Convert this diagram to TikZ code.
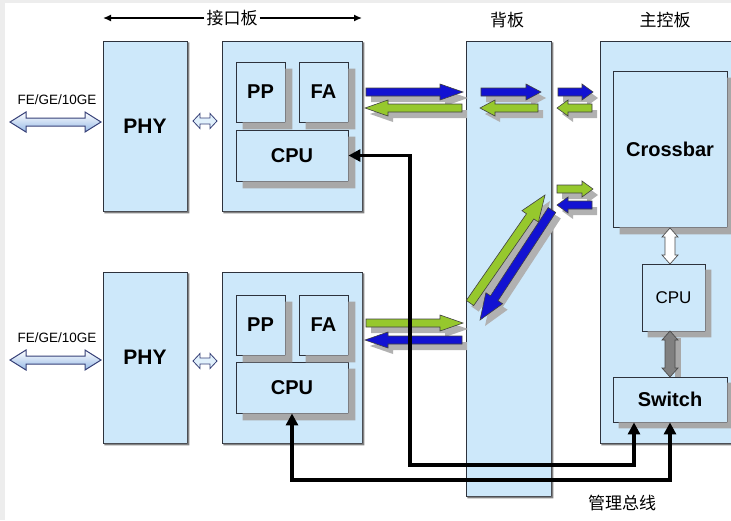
\documentclass[tikz,border=0pt]{standalone}
\usepackage{fontspec}
\setmainfont{Liberation Sans}
\newfontfamily\cjk{Noto Sans CJK SC}
\usetikzlibrary{arrows.meta}
\definecolor{lb}{RGB}{205,232,250}
\definecolor{lbd}{RGB}{150,185,230}
\definecolor{ablue}{RGB}{18,18,210}
\definecolor{agreen}{RGB}{150,200,45}
\definecolor{shd}{RGB}{168,168,168}
\definecolor{bigshd}{RGB}{130,130,130}
\definecolor{boxline}{RGB}{45,50,60}
\definecolor{navyline}{RGB}{55,65,120}

% block arrow from named coordinate #1 to #2, style #3, head length #4, shaft half #5, head half #6
\newcommand\blockarr[6]{%
 \pgfpointanchor{#1}{center}\pgfgetlastxy{\arax}{\aray}%
 \pgfpointanchor{#2}{center}\pgfgetlastxy{\arbx}{\arby}%
 \pgfmathsetmacro\arang{atan2(\arby-\aray,\arbx-\arax)}%
 \pgfmathsetmacro\arlen{veclen(\arbx-\arax,\arby-\aray)}%
 \pgfmathsetmacro\arhb{\arlen-#4}%
 \begin{scope}[shift={(#1)},shift={(5,6)},rotate=\arang]
  \fill[shd!90] (0,#5) -- (\arhb,#5) -- (\arhb,#6) -- (\arlen,0) -- (\arhb,-#6) -- (\arhb,-#5) -- (0,-#5) -- cycle;
 \end{scope}
 \begin{scope}[shift={(#1)},rotate=\arang]
  \draw[#3, draw=black!75, line width=0.6pt, line join=miter] (0,#5) -- (\arhb,#5) -- (\arhb,#6) -- (\arlen,0) -- (\arhb,-#6) -- (\arhb,-#5) -- (0,-#5) -- cycle;
 \end{scope}}

% double arrow from #1 to #2, style #3, shaft half #4, head half #5, head length #6
\newcommand\dblarr[6]{%
 \pgfpointanchor{#1}{center}\pgfgetlastxy{\arax}{\aray}%
 \pgfpointanchor{#2}{center}\pgfgetlastxy{\arbx}{\arby}%
 \pgfmathsetmacro\arang{atan2(\arby-\aray,\arbx-\arax)}%
 \pgfmathsetmacro\arlen{veclen(\arbx-\arax,\arby-\aray)}%
 \pgfmathsetmacro\arhb{\arlen-#6}%
 \begin{scope}[shift={(#1)},rotate=\arang]
  \draw[#3, line join=miter] (0,0) -- (#6,#5) -- (#6,#4) -- (\arhb,#4) -- (\arhb,#5) -- (\arlen,0) -- (\arhb,-#5) -- (\arhb,-#4) -- (#6,-#4) -- (#6,-#5) -- cycle;
 \end{scope}}

% L-shaped offset shadow on the right and bottom of node #1, offset #2 (pt), colour #3
\newcommand\lshadow[3]{%
 \fill[#3] ([yshift=-#2pt]#1.north east) -- ([xshift=#2pt,yshift=-#2pt]#1.north east)
   -- ([xshift=#2pt,yshift=-#2pt]#1.south east) -- ([xshift=#2pt,yshift=-#2pt]#1.south west)
   -- ([xshift=#2pt]#1.south west) -- (#1.south east) -- cycle;}

\begin{document}
\begin{tikzpicture}[x=1pt,y=-1pt,
  bigbox/.style={draw=boxline, line width=1pt, fill=lb, inner sep=0pt,
    font=\fontsize{21}{21}\selectfont\bfseries},
  unit/.style={draw=boxline, line width=0.9pt, fill=lb, inner sep=0pt,
    font=\fontsize{20}{20}\selectfont\bfseries},
  lbl/.style={font=\fontsize{17}{17}\selectfont\cjk, inner sep=1pt},
  port/.style={font=\fontsize{13.5}{14}\selectfont, inner sep=0pt},
  bus/.style={line width=3.2pt, {Triangle[length=12pt,width=12pt]}-{Triangle[length=12pt,width=12pt]}},
]
\useasboundingbox (0,0) rectangle (731,520);
\fill[black!7] (0,0) rectangle (5,520);
\fill[black!7] (0,0) rectangle (731,3);

% main boxes
\node[bigbox, minimum width=84, minimum height=170] (phy1) at (145,126) {PHY};
\node[bigbox, minimum width=84, minimum height=171] (phy2) at (145,357.5) {PHY};
\node[bigbox, minimum width=140, minimum height=170] (ib1) at (292,126) {};
\node[bigbox, minimum width=140, minimum height=171] (ib2) at (292,357.5) {};
\node[bigbox, minimum width=85, minimum height=455] (bp) at (508.5,268.5) {};
\node[bigbox, minimum width=150, minimum height=402] (mc) at (675,242) {};
\lshadow{phy1}{1.8}{bigshd}
\lshadow{phy2}{1.8}{bigshd}
\lshadow{ib1}{1.8}{bigshd}
\lshadow{ib2}{1.8}{bigshd}
\lshadow{bp}{1.8}{bigshd}
\lshadow{mc}{1.8}{bigshd}

% interface board units
\node[unit, minimum width=49, minimum height=60] (pp1) at (260.5,92) {PP};
\node[unit, minimum width=49, minimum height=60] (fa1) at (323.5,92) {FA};
\node[unit, minimum width=112, minimum height=51] (cpu1) at (292,155.5) {CPU};
\node[unit, minimum width=49, minimum height=60] (pp2) at (260.5,325) {PP};
\node[unit, minimum width=49, minimum height=60] (fa2) at (323.5,325) {FA};
\node[unit, minimum width=112, minimum height=51] (cpu2) at (292,387.5) {CPU};

% main control units
\node[unit, minimum width=114, minimum height=156] (xb) at (670,149) {Crossbar};
\node[unit, minimum width=63, minimum height=67, font=\fontsize{17}{17}\selectfont] (mcpu) at (673.5,297.5) {CPU};
\node[unit, minimum width=114, minimum height=45] (sw) at (670,399.5) {Switch};

\lshadow{pp1}{7}{shd}
\lshadow{fa1}{7}{shd}
\lshadow{cpu1}{7}{shd}
\lshadow{pp2}{7}{shd}
\lshadow{fa2}{7}{shd}
\lshadow{cpu2}{7}{shd}
\lshadow{xb}{7}{shd}
\lshadow{mcpu}{6}{shd}
\lshadow{sw}{6}{shd}

% header
\node[lbl, fill=white, inner sep=2pt] (hdr) at (232,18) {接口板};
\coordinate (hdl) at (103,18);
\coordinate (hdrr) at (362,18);
\draw[line width=1.4pt, -{Latex[length=8pt,width=7pt]}] (hdr.west) -- (hdl);
\draw[line width=1.4pt, -{Latex[length=8pt,width=7pt]}] (hdr.east) -- (hdrr);
\node[lbl] (bpl) at (507,20) {背板};
\node[lbl] (mcl) at (665,20) {主控板};

% port labels and double arrows
\node[port] (fe1) at (57,100) {FE/GE/10GE};
\node[port] (fe2) at (57,338) {FE/GE/10GE};
\coordinate (l1a) at (10,122); \coordinate (l1b) at (101,122);
\coordinate (l2a) at (10,360); \coordinate (l2b) at (101,360);
\coordinate (s1a) at (193,121); \coordinate (s1b) at (217,121);
\coordinate (s2a) at (193,361); \coordinate (s2b) at (217,361);
\dblarr{l1a}{l1b}{top color=white, bottom color=lbd, draw=navyline, line width=1pt}{4}{10}{16}
\dblarr{l2a}{l2b}{top color=white, bottom color=lbd, draw=navyline, line width=1pt}{4}{10}{16}
\dblarr{s1a}{s1b}{fill=lb!60, draw=navyline, line width=0.8pt}{3}{7.5}{7}
\dblarr{s2a}{s2b}{fill=lb!60, draw=navyline, line width=0.8pt}{3}{7.5}{7}

% vertical double arrows in main control
\coordinate (v1a) at (670,228); \coordinate (v1b) at (670,264);
\coordinate (v2a) at (670,331); \coordinate (v2b) at (670,377);
\fill[shd] (675,338) rectangle (681,377);
\dblarr{v1a}{v1b}{fill=white, draw=black!70, line width=0.7pt}{5}{8}{9}
\dblarr{v2a}{v2b}{fill=black!50, draw=black!70, line width=0.7pt}{5}{8}{9}

% data arrows
\coordinate (a1s) at (366,92);  \coordinate (a1e) at (463,92);
\coordinate (a2s) at (462,108); \coordinate (a2e) at (365,108);
\coordinate (a3s) at (481,92);  \coordinate (a3e) at (541,92);
\coordinate (a4s) at (538,108); \coordinate (a4e) at (480,108);
\coordinate (a5s) at (558,92);  \coordinate (a5e) at (593,92);
\coordinate (a6s) at (592,108); \coordinate (a6e) at (557,108);
\coordinate (a7s) at (557,189); \coordinate (a7e) at (593,189);
\coordinate (a8s) at (592,205); \coordinate (a8e) at (557,205);
\coordinate (a9s) at (470,303); \coordinate (a9e) at (545,195);
\coordinate (a10s) at (552,210); \coordinate (a10e) at (480,320);
\coordinate (a11s) at (366,323); \coordinate (a11e) at (463,323);
\coordinate (a12s) at (462,340); \coordinate (a12e) at (365,340);
\blockarr{a1s}{a1e}{fill=ablue}{23}{4}{8}
\blockarr{a2s}{a2e}{fill=agreen}{23}{4}{8}
\blockarr{a3s}{a3e}{fill=ablue}{15}{4}{8}
\blockarr{a4s}{a4e}{fill=agreen}{15}{4}{8}
\blockarr{a5s}{a5e}{fill=ablue}{11}{4}{8}
\blockarr{a6s}{a6e}{fill=agreen}{11}{4}{8}
\blockarr{a7s}{a7e}{fill=agreen}{11}{4}{8}
\blockarr{a8s}{a8e}{fill=ablue}{11}{4}{8}
\blockarr{a9s}{a9e}{fill=agreen}{26}{4.5}{10}
\blockarr{a10s}{a10e}{fill=ablue}{26}{4.5}{10}
\blockarr{a11s}{a11e}{fill=agreen}{23}{4}{8}
\blockarr{a12s}{a12e}{fill=ablue}{23}{4}{8}

% management bus
\coordinate (b1) at (410,465);
\coordinate (b2) at (670,480);
\draw[bus] (cpu1.east) -| (b1) -| ([xshift=-36pt]sw.south);
\draw[bus] (cpu2.south) |- (b2) -- (sw.south);
\node[lbl] (bus) at (622,503) {管理总线};
\end{tikzpicture}
\end{document}
